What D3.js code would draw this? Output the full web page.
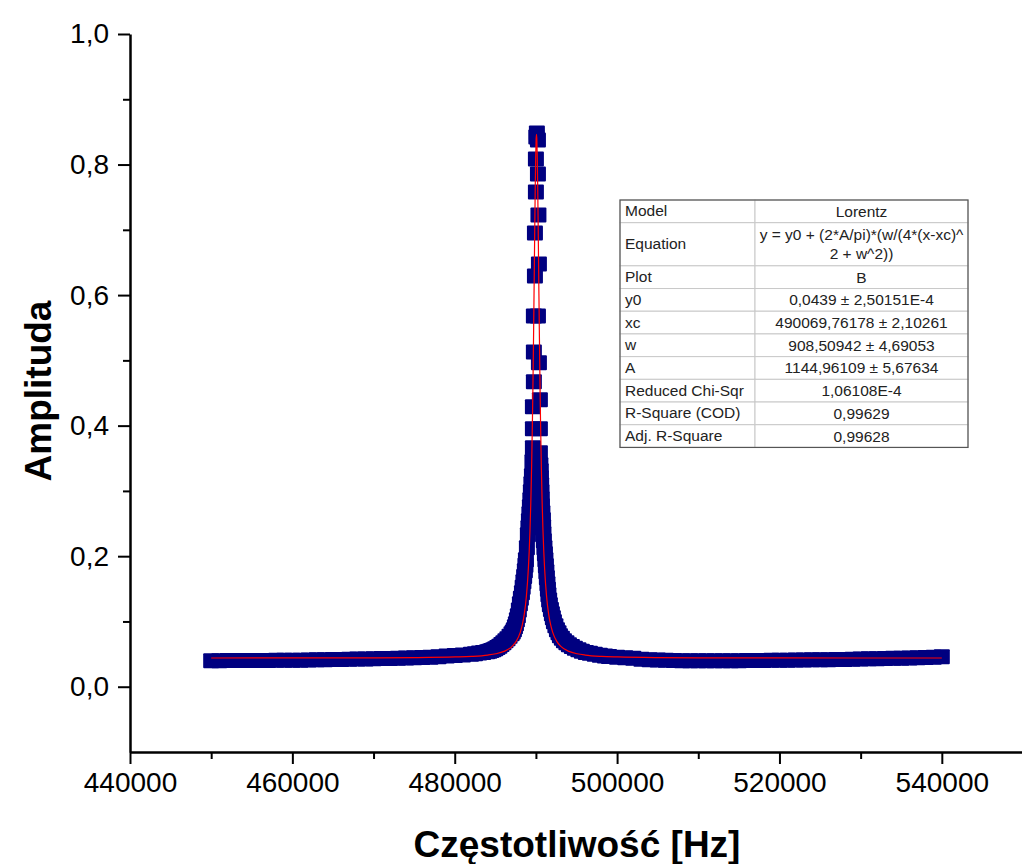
<!DOCTYPE html>
<html>
<head>
<meta charset='utf-8'>
<script src='https://d3js.org/d3.v7.min.js'></script>
<style>
body { margin: 0; background: white; }
text { font-family: 'Liberation Sans', Arial, sans-serif; }
</style>
</head>
<body>
<svg width=1022 height=864></svg>
<script>
// measured points (frequency in Hz, amplitude)
const freq = [
  450000, 451000, 452000, 453000, 454000, 455000, 456000, 457000, 458000, 459000,
  460000, 461000, 462000, 463000, 464000, 465000, 466000, 467000, 468000, 469000,
  470000, 471000, 472000, 473000, 474000, 475000, 476000, 477000, 478000, 479000,
  480000, 481000, 482000, 482500, 483000, 483500, 484000, 484250, 484500, 484750,
  485000, 485250, 485500, 485750, 486000, 486250, 486500, 486750, 487000, 487150,
  487290, 487420, 487540, 487660, 487780, 487900, 488030, 488150, 488280, 488370,
  488460, 488550, 488640, 488710, 488770, 488890, 489010,
  489080, 489140, 489200, 489260, 489320, 489380, 489445, 489510, 489570, 489630,
  489630, 489630, 489750, 489750, 489750, 489880, 489880, 490000, 490000, 490050,
  490120, 490250, 490250, 490310, 490370, 490250, 490370, 490490, 490490, 490490,
  490550, 490590, 490610, 490650, 490680, 490710, 490740, 490800, 490860, 490890,
  490920, 490980, 491050, 491110, 491170, 491230, 491290, 491350, 491420, 491480,
  491540, 491630, 491720, 491850, 491970, 492090, 492220, 492400, 492590, 492780,
  492960, 493200, 493450, 493750, 494060, 494430, 494800, 495230, 495660, 496150,
  496650, 497250, 497880,
  498500, 499000, 500000, 501000, 502000, 503000, 504000, 505000, 506000, 507000,
  508000, 509000, 510000, 511000, 512000, 513000, 514000, 515000, 516000, 517000,
  518000, 519000, 520000, 521000, 522000, 523000, 524000, 525000, 526000, 527000,
  528000, 529000, 530000, 531000, 532000, 533000, 534000, 535000, 536000, 537000,
  538000, 539000, 540000
]
const amp = [
  0.0398, 0.0398, 0.0400, 0.0400, 0.0400, 0.0400, 0.0401, 0.0403, 0.0404, 0.0406,
  0.0406, 0.0406, 0.0409, 0.0412, 0.0413, 0.0417, 0.0418, 0.0421, 0.0424, 0.0426,
  0.0429, 0.0432, 0.0433, 0.0436, 0.0440, 0.0444, 0.0449, 0.0453, 0.0459, 0.0469,
  0.0478, 0.0487, 0.0499, 0.0506, 0.0515, 0.0524, 0.0536, 0.0545, 0.0555, 0.0567,
  0.0582, 0.0600, 0.0620, 0.0646, 0.0674, 0.0703, 0.0735, 0.0772, 0.0812, 0.0840,
  0.0873, 0.0917, 0.0965, 0.1025, 0.1087, 0.1175, 0.1271, 0.1355, 0.1440, 0.1525,
  0.1608, 0.1690, 0.1776, 0.1860, 0.1945, 0.2129, 0.2328,
  0.2435, 0.2542, 0.2649, 0.2757, 0.2864, 0.2986, 0.3109, 0.3231, 0.3446, 0.3660,
  0.3951, 0.4288, 0.4671, 0.5130, 0.5681, 0.6294, 0.6953, 0.7580, 0.8086, 0.8423,
  0.8484, 0.8377, 0.7856, 0.7228, 0.6478, 0.5681, 0.4962, 0.4395, 0.3951, 0.3583,
  0.3400, 0.3308, 0.3201, 0.3093, 0.2986, 0.2879, 0.2772, 0.2665, 0.2557, 0.2450,
  0.2343, 0.2236, 0.2129, 0.2037, 0.1945, 0.1853, 0.1761, 0.1669, 0.1577, 0.1493,
  0.1409, 0.1330, 0.1256, 0.1185, 0.1118, 0.1055, 0.0995, 0.0935, 0.0873, 0.0826,
  0.0781, 0.0742, 0.0704, 0.0672, 0.0643, 0.0615, 0.0590, 0.0566, 0.0544, 0.0526,
  0.0513, 0.0497, 0.0482,
  0.0472, 0.0462, 0.0452, 0.0444, 0.0435, 0.0421, 0.0413, 0.0409, 0.0404, 0.0401,
  0.0398, 0.0398, 0.0398, 0.0398, 0.0398, 0.0398, 0.0398, 0.0398, 0.0400, 0.0401,
  0.0403, 0.0404, 0.0406, 0.0407, 0.0409, 0.0410, 0.0412, 0.0413, 0.0415, 0.0416,
  0.0418, 0.0421, 0.0424, 0.0427, 0.0429, 0.0432, 0.0435, 0.0438, 0.0441, 0.0444,
  0.0447, 0.0452, 0.0459
]
// Lorentz fit curve
const fitFreq = [
  450000, 460070, 470070, 475070, 480070, 482070, 484070, 485070, 486070, 487070,
  487570, 488070, 488320, 488570, 488820, 489070, 489170, 489270, 489370, 489470,
  489570, 489620, 489670, 489720, 489770, 489820, 489870, 489920, 489970, 490020,
  490070, 490120, 490170, 490220, 490270, 490320, 490370, 490420, 490470, 490520,
  490570, 490670, 490770, 490870, 490970, 491070, 491320, 491570, 491820, 492070,
  492570, 493070, 494070, 495070, 496070, 498070, 500070, 505070, 510070, 520070,
  530070, 540000
]
const fitAmp = [
  0.0440, 0.0441, 0.0443, 0.0446, 0.0456, 0.0465, 0.0485, 0.0505, 0.0541, 0.0619,
  0.0695, 0.0832, 0.0946, 0.1113, 0.1375, 0.1811, 0.2068, 0.2395, 0.2816, 0.3362,
  0.4067, 0.4488, 0.4960, 0.5473, 0.6026, 0.6597, 0.7160, 0.7673, 0.8092, 0.8366,
  0.8462, 0.8366, 0.8092, 0.7673, 0.7160, 0.6597, 0.6026, 0.5473, 0.4960, 0.4488,
  0.4067, 0.3362, 0.2816, 0.2395, 0.2068, 0.1811, 0.1375, 0.1113, 0.0946, 0.0832,
  0.0695, 0.0619, 0.0541, 0.0505, 0.0485, 0.0465, 0.0456, 0.0446, 0.0443, 0.0441,
  0.0440, 0.0440
]
const xTicks = [440000, 460000, 480000, 500000, 520000, 540000]
const xMinor = [450000, 470000, 490000, 510000, 530000, 550000]
const yTicks = [0, 0.2, 0.4, 0.6, 0.8, 1.0]
const yMinor = [0.1, 0.3, 0.5, 0.7, 0.9]
const tableRows = [
  ['Model', 'Lorentz'],
  ['Equation', 'y = y0 + (2*A/pi)*(w/(4*(x-xc)^|2 + w^2))'],
  ['Plot', 'B'],
  ['y0', '0,0439 ± 2,50151E-4'],
  ['xc', '490069,76178 ± 2,10261'],
  ['w', '908,50942 ± 4,69053'],
  ['A', '1144,96109 ± 5,67634'],
  ['Reduced Chi-Sqr', '1,06108E-4'],
  ['R-Square (COD)', '0,99629'],
  ['Adj. R-Square', '0,99628']
]

const svg = d3.select('svg')
const plotLeft = 130, plotRight = 1023, plotTop = 34, plotBottom = 752
const x = d3.scaleLinear().domain([440000, 550000]).range([plotLeft, plotRight])
const y = d3.scaleLinear().domain([-0.1, 1.0]).range([plotBottom, plotTop])
const comma = d3.formatLocale({decimal: ',', thousands: '', grouping: [3], currency: ['', '']})

svg.append('rect').attr('width', 1022).attr('height', 864).attr('fill', 'white')

// data markers
const pts = freq.map((f, i) => ({f, a: amp[i]}))
svg.append('g').selectAll('rect').data(pts).enter().append('rect')
  .attr('x', d => x(d.f) - 8)
  .attr('y', d => y(d.a) - 7.5)
  .attr('width', 16)
  .attr('height', 15)
  .attr('rx', 1)
  .attr('fill', '#000080')

// fit line
const fit = fitFreq.map((f, i) => [f, fitAmp[i]])
svg.append('path')
  .datum(fit)
  .attr('fill', 'none')
  .attr('stroke', '#ff0000')
  .attr('stroke-width', 1.2)
  .attr('d', d3.line().x(d => x(d[0])).y(d => y(d[1])).curve(d3.curveMonotoneX))

// axes
svg.append('g').attr('transform', `translate(${plotLeft},0)`)
  .call(d3.axisLeft(y).tickValues(yTicks).tickSize(12).tickSizeOuter(0).tickPadding(9).tickFormat(comma.format('.1f')))
svg.append('g').attr('transform', `translate(${plotLeft},0)`)
  .call(d3.axisLeft(y).tickValues(yMinor).tickSize(7).tickSizeOuter(0).tickFormat(''))
  .select('.domain').remove()
svg.append('g').attr('transform', `translate(0,${plotBottom})`)
  .call(d3.axisBottom(x).tickValues(xTicks).tickSize(12).tickSizeOuter(0).tickPadding(8).tickFormat(d3.format('d')))
svg.append('g').attr('transform', `translate(0,${plotBottom})`)
  .call(d3.axisBottom(x).tickValues(xMinor).tickSize(7).tickSizeOuter(0).tickFormat(''))
  .select('.domain').remove()

svg.selectAll('.domain').attr('stroke', 'black').attr('stroke-width', 2.5)
svg.selectAll('.tick line').attr('stroke', 'black').attr('stroke-width', 2)
svg.selectAll('.tick text').attr('fill', 'black').style('font-size', '28px')
  .style('font-family', "'Liberation Sans', Arial, sans-serif")

// axis titles
svg.append('text')
  .attr('x', 577).attr('y', 857)
  .attr('text-anchor', 'middle')
  .style('font-size', '37px').style('font-weight', 'bold')
  .text('Częstotliwość [Hz]')
svg.append('text')
  .attr('transform', 'translate(51,391) rotate(-90)')
  .attr('text-anchor', 'middle')
  .style('font-size', '37px').style('font-weight', 'bold')
  .text('Amplituda')

// fit parameter table
const tx = 620, tw1 = 135, tw2 = 213, rowH = 22.7
const table = svg.append('g')
let ty = 200
tableRows.forEach(r => {
  const lines = r[1].split('|')
  const h = rowH * (lines.length === 2 ? 1.9 : 1)
  table.append('rect').attr('x', tx).attr('y', ty).attr('width', tw1).attr('height', h)
    .attr('fill', 'white').attr('stroke', '#c8c8c8')
  table.append('rect').attr('x', tx + tw1).attr('y', ty).attr('width', tw2).attr('height', h)
    .attr('fill', 'white').attr('stroke', '#c8c8c8')
  table.append('text').attr('x', tx + 5).attr('y', ty + h / 2 + 5)
    .style('font-size', '15.5px').attr('fill', '#222').text(r[0])
  lines.forEach((l, i) => {
    table.append('text').attr('x', tx + tw1 + tw2 / 2)
      .attr('y', ty + (lines.length === 2 ? 17 + i * 19 : h / 2 + 5.5))
      .attr('text-anchor', 'middle')
      .style('font-size', '15.5px').attr('fill', '#222').text(l)
  })
  ty += h
})
table.append('rect').attr('x', tx).attr('y', 200).attr('width', tw1 + tw2).attr('height', ty - 200)
  .attr('fill', 'none').attr('stroke', '#555').attr('stroke-width', 1.2)
</script>
</body>
</html>
